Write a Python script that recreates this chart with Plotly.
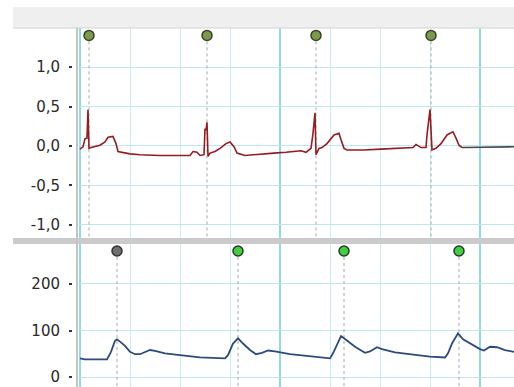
import plotly.graph_objects as go

# ---------------- data ----------------
ecg_t = [0.000, 0.012, 0.020, 0.028, 0.032, 0.036, 0.044, 0.060, 0.080, 0.100, 0.112, 0.132,
         0.144, 0.152, 0.180, 0.200, 0.240, 0.320, 0.440, 0.452, 0.468, 0.480, 0.496, 0.500,
         0.504, 0.508, 0.512, 0.520, 0.540, 0.560, 0.584, 0.600, 0.616, 0.628, 0.660, 0.724,
         0.776, 0.824, 0.884, 0.904, 0.924, 0.932, 0.940, 0.944, 0.956, 0.968, 0.988, 1.016,
         1.036, 1.044, 1.056, 1.068, 1.136, 1.204, 1.296, 1.332, 1.344, 1.364, 1.384, 1.388,
         1.400, 1.408, 1.424, 1.444, 1.468, 1.492, 1.504, 1.516, 1.528]
ecg_v = [-0.04, -0.01, 0.09, 0.10, 0.46, -0.03, -0.02, -0.01, 0.01, 0.05, 0.11, 0.12,
         0.03, -0.07, -0.09, -0.10, -0.11, -0.12, -0.12, -0.07, -0.08, -0.12, -0.11, 0.22,
         0.20, 0.30, -0.13, -0.09, -0.07, -0.03, 0.03, 0.05, -0.01, -0.09, -0.12, -0.10,
         -0.09, -0.08, -0.06, -0.08, -0.03, 0.16, 0.42, -0.11, -0.03, -0.02, 0.03, 0.14,
         0.16, 0.08, -0.03, -0.05, -0.05, -0.04, -0.03, -0.02, 0.02, -0.02, -0.02, 0.14,
         0.46, -0.05, -0.03, 0.03, 0.14, 0.18, 0.10, 0.01, -0.02]
flat_t = [1.528, 1.736]
flat_v = [-0.02, -0.01]

pleth_t = [0.000, 0.020, 0.108, 0.124, 0.140, 0.148, 0.160, 0.180, 0.200, 0.220, 0.240, 0.260,
           0.280, 0.300, 0.340, 0.400, 0.480, 0.580, 0.592, 0.612, 0.632, 0.652, 0.680, 0.704,
           0.728, 0.752, 0.780, 0.840, 0.920, 1.000, 1.012, 1.032, 1.044, 1.064, 1.100, 1.140,
           1.160, 1.188, 1.208, 1.260, 1.340, 1.400, 1.460, 1.472, 1.488, 1.512, 1.532, 1.568,
           1.600, 1.616, 1.640, 1.668, 1.700, 1.736]
pleth_v = [40, 38, 38, 54, 78, 81, 76, 67, 54, 49, 49, 54,
           58, 56, 51, 47, 42, 40, 47, 72, 83, 72, 58, 49,
           52, 57, 55, 49, 44, 40, 51, 76, 88, 80, 65, 52,
           55, 64, 60, 53, 47, 44, 42, 51, 72, 94, 81, 69,
           60, 57, 65, 64, 58, 54]

ecg_mark_t = [0.036, 0.508, 0.944, 1.404]
ecg_mark_v = [1.40, 1.40, 1.40, 1.40]
pleth_mark_t = [0.148, 0.632, 1.056, 1.516]
pleth_mark_v = [271, 271, 271, 271]
pleth_mark_col = ["#6f6f6f", "#3cd23c", "#3cd23c", "#3cd23c"]

ecg_ticks = [-1.0, -0.5, 0.0, 0.5, 1.0]
ecg_ticktext = ["-1,0", "-0,5", "0,0", "0,5", "1,0"]
pleth_ticks = [0, 100, 200]
pleth_ticktext = ["0", "100", "200"]

ECG_RANGE = [-1.165, 1.494]
PLETH_RANGE = [-21.5, 286]
X_RANGE = [-0.008, 1.736]

# ---------------- figure ----------------
fig = go.Figure()

def drops(ts, top, bottom):
    xs, ys = [], []
    for t in ts:
        xs += [t, t, None]
        ys += [top, bottom, None]
    return xs, ys

dx, dy = drops(ecg_mark_t, ecg_mark_v[0], ECG_RANGE[0])
fig.add_trace(go.Scatter(x=dx, y=dy, mode="lines", xaxis="x", yaxis="y",
                         line=dict(color="#a8a8a8", width=1, dash="dot"), hoverinfo="skip"))
dx2, dy2 = drops(pleth_mark_t, pleth_mark_v[0], PLETH_RANGE[0])
fig.add_trace(go.Scatter(x=dx2, y=dy2, mode="lines", xaxis="x2", yaxis="y2",
                         line=dict(color="#a8a8a8", width=1, dash="dot"), hoverinfo="skip"))

fig.add_trace(go.Scatter(x=ecg_t, y=ecg_v, mode="lines", xaxis="x", yaxis="y",
                         line=dict(color="#951c22", width=1.6)))
fig.add_trace(go.Scatter(x=flat_t, y=flat_v, mode="lines", xaxis="x", yaxis="y",
                         line=dict(color="#4a4a4a", width=1.6)))
fig.add_trace(go.Scatter(x=pleth_t, y=pleth_v, mode="lines", xaxis="x2", yaxis="y2",
                         line=dict(color="#2c4a7e", width=1.8)))

fig.add_trace(go.Scatter(x=ecg_mark_t, y=ecg_mark_v, mode="markers", xaxis="x", yaxis="y",
                         marker=dict(size=10, color="#7d9a4c", line=dict(color="#3a4428", width=1.5))))
fig.add_trace(go.Scatter(x=pleth_mark_t, y=pleth_mark_v, mode="markers", xaxis="x2", yaxis="y2",
                         marker=dict(size=10, color=pleth_mark_col, line=dict(color="#333333", width=1.5))))

W, H = 514, 387
xdom = [78 / W, 1]
ydom_top = [(H - 238) / H, (H - 28) / H]
ydom_bot = [0, (H - 244) / H]

xcommon = dict(range=X_RANGE, showticklabels=False, ticks="", zeroline=False,
               tick0=0, dtick=0.8, showgrid=True, gridcolor="#8fdbe3", gridwidth=2,
               minor=dict(tick0=0, dtick=0.2, showgrid=True, gridcolor="#c9edf1", gridwidth=1),
               showline=False, domain=xdom)
ycommon = dict(tickmode="array", showgrid=True, gridcolor="#bfe8ed", gridwidth=1,
               zeroline=False, ticks="outside", ticklen=3, tickwidth=1.5, tickcolor="#333333",
               ticklabelstandoff=6, showline=True, linecolor="white", linewidth=1,
               tickfont=dict(family="DejaVu Sans", size=15, color="#2a2a2a"))

fig.update_layout(
    width=W, height=H, margin=dict(l=0, r=0, t=0, b=0),
    paper_bgcolor="white", plot_bgcolor="white", showlegend=False,
    xaxis=dict(xcommon, anchor="y"),
    xaxis2=dict(xcommon, anchor="y2", matches="x"),
    yaxis=dict(ycommon, domain=ydom_top, range=ECG_RANGE, tickvals=ecg_ticks,
               ticktext=ecg_ticktext, anchor="free", position=72 / W),
    yaxis2=dict(ycommon, domain=ydom_bot, range=PLETH_RANGE, tickvals=pleth_ticks,
                ticktext=pleth_ticktext, anchor="free", position=72 / W),
    shapes=[
        dict(type="rect", xref="paper", yref="paper", x0=13 / W, x1=1,
             y0=(H - 28) / H, y1=(H - 7) / H, fillcolor="#efefef", line=dict(width=0), layer="below"),
        dict(type="line", xref="paper", yref="paper", x0=13 / W, x1=1,
             y0=(H - 28) / H, y1=(H - 28) / H, line=dict(color="#d2d2d2", width=1)),
        dict(type="rect", xref="paper", yref="paper", x0=13 / W, x1=1,
             y0=(H - 244) / H, y1=(H - 238) / H, fillcolor="#cbcbcb", line=dict(width=0)),
        dict(type="line", xref="paper", yref="paper", x0=77 / W, x1=77 / W,
             y0=0, y1=(H - 28) / H, line=dict(color="#c4c4c4", width=2)),
    ],
)

fig.write_html("out.html")
